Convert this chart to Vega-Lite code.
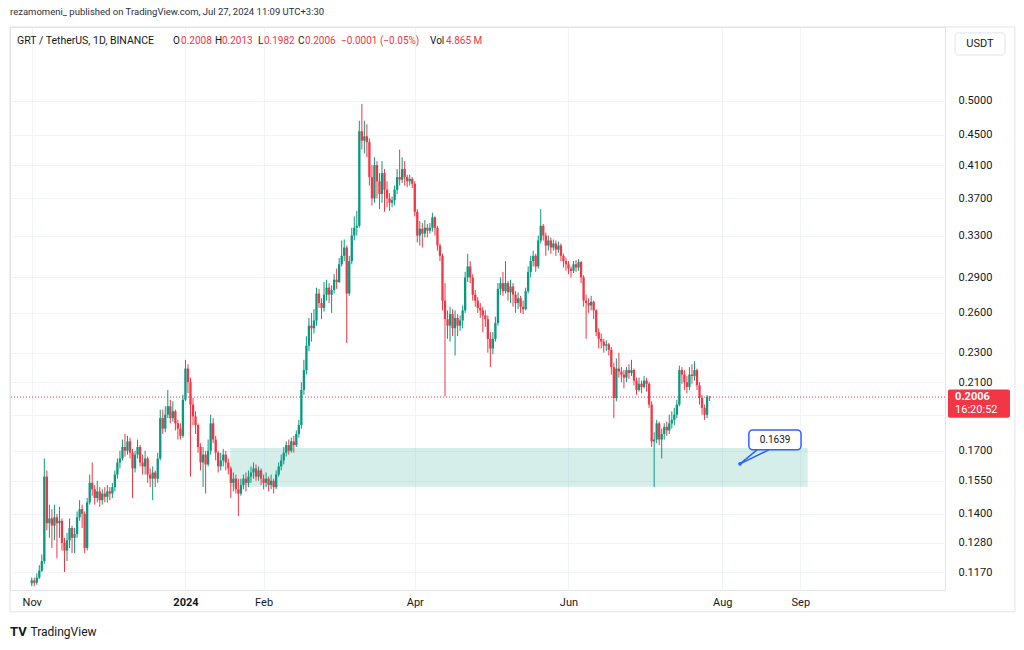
{
"$schema": "https://vega.github.io/schema/vega-lite/v6.json",
"width": 935, "height": 563,
"autosize": {"type": "none"},
"padding": {"left": 10, "top": 27, "right": 79, "bottom": 60},
"background": "#ffffff",
"config": {"view": {"stroke": "#e0e3eb", "strokeWidth": 1}, "font": "Roboto"},
"datasets": {
"candles": [
{"d":"2023-11-01","o":0.1130,"h":0.1150,"l":0.1120,"c":0.1140},
{"d":"2023-11-02","o":0.1140,"h":0.1150,"l":0.1120,"c":0.1132},
{"d":"2023-11-03","o":0.1132,"h":0.1165,"l":0.1125,"c":0.1150},
{"d":"2023-11-04","o":0.1150,"h":0.1195,"l":0.1145,"c":0.1175},
{"d":"2023-11-05","o":0.1175,"h":0.1235,"l":0.1170,"c":0.1210},
{"d":"2023-11-06","o":0.1210,"h":0.1660,"l":0.1200,"c":0.1570},
{"d":"2023-11-07","o":0.1570,"h":0.1600,"l":0.1330,"c":0.1360},
{"d":"2023-11-08","o":0.1360,"h":0.1440,"l":0.1300,"c":0.1380},
{"d":"2023-11-09","o":0.1380,"h":0.1420,"l":0.1260,"c":0.1350},
{"d":"2023-11-10","o":0.1350,"h":0.1440,"l":0.1290,"c":0.1385},
{"d":"2023-11-11","o":0.1385,"h":0.1400,"l":0.1220,"c":0.1360},
{"d":"2023-11-12","o":0.1360,"h":0.1430,"l":0.1300,"c":0.1370},
{"d":"2023-11-13","o":0.1370,"h":0.1380,"l":0.1250,"c":0.1280},
{"d":"2023-11-14","o":0.1280,"h":0.1300,"l":0.1170,"c":0.1250},
{"d":"2023-11-15","o":0.1250,"h":0.1320,"l":0.1210,"c":0.1290},
{"d":"2023-11-16","o":0.1290,"h":0.1380,"l":0.1260,"c":0.1340},
{"d":"2023-11-17","o":0.1340,"h":0.1350,"l":0.1240,"c":0.1300},
{"d":"2023-11-18","o":0.1300,"h":0.1340,"l":0.1240,"c":0.1315},
{"d":"2023-11-19","o":0.1315,"h":0.1410,"l":0.1300,"c":0.1385},
{"d":"2023-11-20","o":0.1385,"h":0.1460,"l":0.1370,"c":0.1420},
{"d":"2023-11-21","o":0.1420,"h":0.1440,"l":0.1340,"c":0.1400},
{"d":"2023-11-22","o":0.1400,"h":0.1410,"l":0.1240,"c":0.1260},
{"d":"2023-11-23","o":0.1260,"h":0.1470,"l":0.1250,"c":0.1450},
{"d":"2023-11-24","o":0.1450,"h":0.1580,"l":0.1440,"c":0.1540},
{"d":"2023-11-25","o":0.1540,"h":0.1640,"l":0.1480,"c":0.1510},
{"d":"2023-11-26","o":0.1510,"h":0.1530,"l":0.1440,"c":0.1470},
{"d":"2023-11-27","o":0.1470,"h":0.1550,"l":0.1450,"c":0.1500},
{"d":"2023-11-28","o":0.1500,"h":0.1520,"l":0.1430,"c":0.1460},
{"d":"2023-11-29","o":0.1460,"h":0.1510,"l":0.1440,"c":0.1490},
{"d":"2023-11-30","o":0.1490,"h":0.1520,"l":0.1450,"c":0.1475},
{"d":"2023-12-01","o":0.1475,"h":0.1530,"l":0.1450,"c":0.1500},
{"d":"2023-12-02","o":0.1500,"h":0.1520,"l":0.1460,"c":0.1490},
{"d":"2023-12-03","o":0.1490,"h":0.1540,"l":0.1470,"c":0.1520},
{"d":"2023-12-04","o":0.1520,"h":0.1600,"l":0.1500,"c":0.1580},
{"d":"2023-12-05","o":0.1580,"h":0.1660,"l":0.1560,"c":0.1640},
{"d":"2023-12-06","o":0.1640,"h":0.1700,"l":0.1610,"c":0.1660},
{"d":"2023-12-07","o":0.1660,"h":0.1760,"l":0.1650,"c":0.1720},
{"d":"2023-12-08","o":0.1720,"h":0.1790,"l":0.1670,"c":0.1700},
{"d":"2023-12-09","o":0.1700,"h":0.1780,"l":0.1680,"c":0.1750},
{"d":"2023-12-10","o":0.1750,"h":0.1770,"l":0.1660,"c":0.1690},
{"d":"2023-12-11","o":0.1690,"h":0.1710,"l":0.1470,"c":0.1610},
{"d":"2023-12-12","o":0.1610,"h":0.1700,"l":0.1590,"c":0.1680},
{"d":"2023-12-13","o":0.1680,"h":0.1760,"l":0.1660,"c":0.1720},
{"d":"2023-12-14","o":0.1720,"h":0.1730,"l":0.1620,"c":0.1640},
{"d":"2023-12-15","o":0.1640,"h":0.1680,"l":0.1580,"c":0.1620},
{"d":"2023-12-16","o":0.1620,"h":0.1700,"l":0.1580,"c":0.1660},
{"d":"2023-12-17","o":0.1660,"h":0.1670,"l":0.1540,"c":0.1580},
{"d":"2023-12-18","o":0.1580,"h":0.1610,"l":0.1520,"c":0.1560},
{"d":"2023-12-19","o":0.1560,"h":0.1620,"l":0.1460,"c":0.1590},
{"d":"2023-12-20","o":0.1590,"h":0.1600,"l":0.1520,"c":0.1560},
{"d":"2023-12-21","o":0.1560,"h":0.1690,"l":0.1540,"c":0.1660},
{"d":"2023-12-22","o":0.1660,"h":0.1930,"l":0.1650,"c":0.1880},
{"d":"2023-12-23","o":0.1880,"h":0.1930,"l":0.1790,"c":0.1820},
{"d":"2023-12-24","o":0.1820,"h":0.1950,"l":0.1800,"c":0.1900},
{"d":"2023-12-25","o":0.1900,"h":0.2050,"l":0.1880,"c":0.1950},
{"d":"2023-12-26","o":0.1950,"h":0.1990,"l":0.1850,"c":0.1880},
{"d":"2023-12-27","o":0.1880,"h":0.1980,"l":0.1860,"c":0.1920},
{"d":"2023-12-28","o":0.1920,"h":0.1930,"l":0.1810,"c":0.1850},
{"d":"2023-12-29","o":0.1850,"h":0.1870,"l":0.1760,"c":0.1820},
{"d":"2023-12-30","o":0.1820,"h":0.1850,"l":0.1760,"c":0.1780},
{"d":"2023-12-31","o":0.1780,"h":0.2020,"l":0.1770,"c":0.1990},
{"d":"2024-01-01","o":0.1990,"h":0.2250,"l":0.1980,"c":0.2190},
{"d":"2024-01-02","o":0.2190,"h":0.2220,"l":0.2030,"c":0.2100},
{"d":"2024-01-03","o":0.2100,"h":0.2130,"l":0.1570,"c":0.1960},
{"d":"2024-01-04","o":0.1960,"h":0.2000,"l":0.1840,"c":0.1890},
{"d":"2024-01-05","o":0.1890,"h":0.1920,"l":0.1790,"c":0.1840},
{"d":"2024-01-06","o":0.1840,"h":0.1850,"l":0.1690,"c":0.1720},
{"d":"2024-01-07","o":0.1720,"h":0.1740,"l":0.1600,"c":0.1640},
{"d":"2024-01-08","o":0.1640,"h":0.1720,"l":0.1520,"c":0.1680},
{"d":"2024-01-09","o":0.1680,"h":0.1700,"l":0.1490,"c":0.1630},
{"d":"2024-01-10","o":0.1630,"h":0.1760,"l":0.1620,"c":0.1700},
{"d":"2024-01-11","o":0.1700,"h":0.1900,"l":0.1680,"c":0.1850},
{"d":"2024-01-12","o":0.1850,"h":0.1880,"l":0.1740,"c":0.1760},
{"d":"2024-01-13","o":0.1760,"h":0.1780,"l":0.1650,"c":0.1690},
{"d":"2024-01-14","o":0.1690,"h":0.1700,"l":0.1590,"c":0.1620},
{"d":"2024-01-15","o":0.1620,"h":0.1690,"l":0.1600,"c":0.1650},
{"d":"2024-01-16","o":0.1650,"h":0.1710,"l":0.1620,"c":0.1680},
{"d":"2024-01-17","o":0.1680,"h":0.1700,"l":0.1600,"c":0.1640},
{"d":"2024-01-18","o":0.1640,"h":0.1660,"l":0.1580,"c":0.1610},
{"d":"2024-01-19","o":0.1610,"h":0.1620,"l":0.1470,"c":0.1540},
{"d":"2024-01-20","o":0.1540,"h":0.1590,"l":0.1500,"c":0.1560},
{"d":"2024-01-21","o":0.1560,"h":0.1580,"l":0.1490,"c":0.1510},
{"d":"2024-01-22","o":0.1510,"h":0.1560,"l":0.1390,"c":0.1490},
{"d":"2024-01-23","o":0.1490,"h":0.1560,"l":0.1480,"c":0.1530},
{"d":"2024-01-24","o":0.1530,"h":0.1580,"l":0.1510,"c":0.1560},
{"d":"2024-01-25","o":0.1560,"h":0.1590,"l":0.1500,"c":0.1540},
{"d":"2024-01-26","o":0.1540,"h":0.1600,"l":0.1520,"c":0.1570},
{"d":"2024-01-27","o":0.1570,"h":0.1620,"l":0.1540,"c":0.1590},
{"d":"2024-01-28","o":0.1590,"h":0.1640,"l":0.1560,"c":0.1610},
{"d":"2024-01-29","o":0.1610,"h":0.1630,"l":0.1550,"c":0.1570},
{"d":"2024-01-30","o":0.1570,"h":0.1620,"l":0.1550,"c":0.1600},
{"d":"2024-01-31","o":0.1600,"h":0.1610,"l":0.1530,"c":0.1560},
{"d":"2024-02-01","o":0.1560,"h":0.1580,"l":0.1510,"c":0.1540},
{"d":"2024-02-02","o":0.1540,"h":0.1590,"l":0.1520,"c":0.1560},
{"d":"2024-02-03","o":0.1560,"h":0.1570,"l":0.1500,"c":0.1530},
{"d":"2024-02-04","o":0.1530,"h":0.1580,"l":0.1510,"c":0.1550},
{"d":"2024-02-05","o":0.1550,"h":0.1560,"l":0.1490,"c":0.1520},
{"d":"2024-02-06","o":0.1520,"h":0.1600,"l":0.1510,"c":0.1580},
{"d":"2024-02-07","o":0.1580,"h":0.1640,"l":0.1570,"c":0.1620},
{"d":"2024-02-08","o":0.1620,"h":0.1680,"l":0.1600,"c":0.1650},
{"d":"2024-02-09","o":0.1650,"h":0.1720,"l":0.1630,"c":0.1690},
{"d":"2024-02-10","o":0.1690,"h":0.1750,"l":0.1670,"c":0.1730},
{"d":"2024-02-11","o":0.1730,"h":0.1760,"l":0.1680,"c":0.1700},
{"d":"2024-02-12","o":0.1700,"h":0.1770,"l":0.1690,"c":0.1750},
{"d":"2024-02-13","o":0.1750,"h":0.1780,"l":0.1690,"c":0.1730},
{"d":"2024-02-14","o":0.1730,"h":0.1810,"l":0.1720,"c":0.1790},
{"d":"2024-02-15","o":0.1790,"h":0.1870,"l":0.1770,"c":0.1840},
{"d":"2024-02-16","o":0.1840,"h":0.2100,"l":0.1820,"c":0.2050},
{"d":"2024-02-17","o":0.2050,"h":0.2250,"l":0.2020,"c":0.2180},
{"d":"2024-02-18","o":0.2180,"h":0.2420,"l":0.2150,"c":0.2350},
{"d":"2024-02-19","o":0.2350,"h":0.2560,"l":0.2310,"c":0.2500},
{"d":"2024-02-20","o":0.2500,"h":0.2600,"l":0.2380,"c":0.2480},
{"d":"2024-02-21","o":0.2480,"h":0.2630,"l":0.2440,"c":0.2540},
{"d":"2024-02-22","o":0.2540,"h":0.2810,"l":0.2500,"c":0.2760},
{"d":"2024-02-23","o":0.2760,"h":0.2800,"l":0.2640,"c":0.2680},
{"d":"2024-02-24","o":0.2680,"h":0.2720,"l":0.2550,"c":0.2640},
{"d":"2024-02-25","o":0.2640,"h":0.2860,"l":0.2610,"c":0.2750},
{"d":"2024-02-26","o":0.2750,"h":0.2880,"l":0.2700,"c":0.2810},
{"d":"2024-02-27","o":0.2810,"h":0.2850,"l":0.2680,"c":0.2750},
{"d":"2024-02-28","o":0.2750,"h":0.2830,"l":0.2600,"c":0.2790},
{"d":"2024-02-29","o":0.2790,"h":0.2930,"l":0.2760,"c":0.2880},
{"d":"2024-03-01","o":0.2880,"h":0.2980,"l":0.2800,"c":0.2860},
{"d":"2024-03-02","o":0.2860,"h":0.3080,"l":0.2850,"c":0.3020},
{"d":"2024-03-03","o":0.3020,"h":0.3250,"l":0.3000,"c":0.3100},
{"d":"2024-03-04","o":0.3100,"h":0.3260,"l":0.3050,"c":0.3180},
{"d":"2024-03-05","o":0.3180,"h":0.3200,"l":0.2370,"c":0.2760},
{"d":"2024-03-06","o":0.2760,"h":0.3100,"l":0.2740,"c":0.3050},
{"d":"2024-03-07","o":0.3050,"h":0.3380,"l":0.3020,"c":0.3300},
{"d":"2024-03-08","o":0.3300,"h":0.3500,"l":0.3250,"c":0.3380},
{"d":"2024-03-09","o":0.3380,"h":0.3560,"l":0.3300,"c":0.3400},
{"d":"2024-03-10","o":0.3400,"h":0.4700,"l":0.3380,"c":0.4550},
{"d":"2024-03-11","o":0.4550,"h":0.4950,"l":0.4300,"c":0.4420},
{"d":"2024-03-12","o":0.4420,"h":0.4700,"l":0.4250,"c":0.4480},
{"d":"2024-03-13","o":0.4480,"h":0.4650,"l":0.4200,"c":0.4400},
{"d":"2024-03-14","o":0.4400,"h":0.4450,"l":0.3850,"c":0.3950},
{"d":"2024-03-15","o":0.3950,"h":0.4100,"l":0.3620,"c":0.3700},
{"d":"2024-03-16","o":0.3700,"h":0.4200,"l":0.3650,"c":0.4100},
{"d":"2024-03-17","o":0.4100,"h":0.4150,"l":0.3700,"c":0.3900},
{"d":"2024-03-18","o":0.3900,"h":0.4000,"l":0.3580,"c":0.3750},
{"d":"2024-03-19","o":0.3750,"h":0.4150,"l":0.3650,"c":0.4000},
{"d":"2024-03-20","o":0.4000,"h":0.4050,"l":0.3550,"c":0.3800},
{"d":"2024-03-21","o":0.3800,"h":0.3900,"l":0.3600,"c":0.3700},
{"d":"2024-03-22","o":0.3700,"h":0.3760,"l":0.3560,"c":0.3650},
{"d":"2024-03-23","o":0.3650,"h":0.3720,"l":0.3600,"c":0.3680},
{"d":"2024-03-24","o":0.3680,"h":0.3850,"l":0.3620,"c":0.3800},
{"d":"2024-03-25","o":0.3800,"h":0.4050,"l":0.3750,"c":0.3950},
{"d":"2024-03-26","o":0.3950,"h":0.4300,"l":0.3850,"c":0.3920},
{"d":"2024-03-27","o":0.3920,"h":0.4200,"l":0.3880,"c":0.4050},
{"d":"2024-03-28","o":0.4050,"h":0.4150,"l":0.3850,"c":0.3950},
{"d":"2024-03-29","o":0.3950,"h":0.3980,"l":0.3830,"c":0.3900},
{"d":"2024-03-30","o":0.3900,"h":0.3980,"l":0.3850,"c":0.3930},
{"d":"2024-03-31","o":0.3930,"h":0.3950,"l":0.3820,"c":0.3870},
{"d":"2024-04-01","o":0.3870,"h":0.3900,"l":0.3500,"c":0.3550},
{"d":"2024-04-02","o":0.3550,"h":0.3580,"l":0.3230,"c":0.3300},
{"d":"2024-04-03","o":0.3300,"h":0.3450,"l":0.3200,"c":0.3370},
{"d":"2024-04-04","o":0.3370,"h":0.3430,"l":0.3180,"c":0.3320},
{"d":"2024-04-05","o":0.3320,"h":0.3460,"l":0.3280,"c":0.3380},
{"d":"2024-04-06","o":0.3380,"h":0.3420,"l":0.3280,"c":0.3350},
{"d":"2024-04-07","o":0.3350,"h":0.3430,"l":0.3320,"c":0.3380},
{"d":"2024-04-08","o":0.3380,"h":0.3540,"l":0.3340,"c":0.3490},
{"d":"2024-04-09","o":0.3490,"h":0.3500,"l":0.3300,"c":0.3380},
{"d":"2024-04-10","o":0.3380,"h":0.3400,"l":0.3150,"c":0.3200},
{"d":"2024-04-11","o":0.3200,"h":0.3220,"l":0.3050,"c":0.3100},
{"d":"2024-04-12","o":0.3100,"h":0.3120,"l":0.2620,"c":0.2700},
{"d":"2024-04-13","o":0.2700,"h":0.2850,"l":0.2010,"c":0.2550},
{"d":"2024-04-14","o":0.2550,"h":0.2620,"l":0.2400,"c":0.2500},
{"d":"2024-04-15","o":0.2500,"h":0.2650,"l":0.2380,"c":0.2590},
{"d":"2024-04-16","o":0.2590,"h":0.2630,"l":0.2420,"c":0.2480},
{"d":"2024-04-17","o":0.2480,"h":0.2620,"l":0.2280,"c":0.2560},
{"d":"2024-04-18","o":0.2560,"h":0.2590,"l":0.2420,"c":0.2500},
{"d":"2024-04-19","o":0.2500,"h":0.2580,"l":0.2460,"c":0.2540},
{"d":"2024-04-20","o":0.2540,"h":0.2660,"l":0.2480,"c":0.2620},
{"d":"2024-04-21","o":0.2620,"h":0.2950,"l":0.2600,"c":0.2900},
{"d":"2024-04-22","o":0.2900,"h":0.3120,"l":0.2860,"c":0.3000},
{"d":"2024-04-23","o":0.3000,"h":0.3050,"l":0.2850,"c":0.2900},
{"d":"2024-04-24","o":0.2900,"h":0.2930,"l":0.2700,"c":0.2750},
{"d":"2024-04-25","o":0.2750,"h":0.2790,"l":0.2650,"c":0.2700},
{"d":"2024-04-26","o":0.2700,"h":0.2730,"l":0.2600,"c":0.2640},
{"d":"2024-04-27","o":0.2640,"h":0.2680,"l":0.2560,"c":0.2620},
{"d":"2024-04-28","o":0.2620,"h":0.2650,"l":0.2450,"c":0.2580},
{"d":"2024-04-29","o":0.2580,"h":0.2620,"l":0.2490,"c":0.2550},
{"d":"2024-04-30","o":0.2550,"h":0.2580,"l":0.2300,"c":0.2400},
{"d":"2024-05-01","o":0.2400,"h":0.2450,"l":0.2200,"c":0.2330},
{"d":"2024-05-02","o":0.2330,"h":0.2450,"l":0.2290,"c":0.2400},
{"d":"2024-05-03","o":0.2400,"h":0.2570,"l":0.2380,"c":0.2520},
{"d":"2024-05-04","o":0.2520,"h":0.2850,"l":0.2500,"c":0.2800},
{"d":"2024-05-05","o":0.2800,"h":0.2900,"l":0.2750,"c":0.2850},
{"d":"2024-05-06","o":0.2850,"h":0.2950,"l":0.2740,"c":0.2780},
{"d":"2024-05-07","o":0.2780,"h":0.3050,"l":0.2760,"c":0.2850},
{"d":"2024-05-08","o":0.2850,"h":0.2870,"l":0.2700,"c":0.2770},
{"d":"2024-05-09","o":0.2770,"h":0.2880,"l":0.2680,"c":0.2820},
{"d":"2024-05-10","o":0.2820,"h":0.2850,"l":0.2650,"c":0.2750},
{"d":"2024-05-11","o":0.2750,"h":0.2780,"l":0.2600,"c":0.2680},
{"d":"2024-05-12","o":0.2680,"h":0.2770,"l":0.2630,"c":0.2720},
{"d":"2024-05-13","o":0.2720,"h":0.2740,"l":0.2600,"c":0.2650},
{"d":"2024-05-14","o":0.2650,"h":0.2700,"l":0.2590,"c":0.2630},
{"d":"2024-05-15","o":0.2630,"h":0.2810,"l":0.2620,"c":0.2780},
{"d":"2024-05-16","o":0.2780,"h":0.3000,"l":0.2760,"c":0.2950},
{"d":"2024-05-17","o":0.2950,"h":0.3100,"l":0.2900,"c":0.3050},
{"d":"2024-05-18","o":0.3050,"h":0.3150,"l":0.3000,"c":0.3100},
{"d":"2024-05-19","o":0.3100,"h":0.3120,"l":0.2950,"c":0.3000},
{"d":"2024-05-20","o":0.3000,"h":0.3300,"l":0.2980,"c":0.3250},
{"d":"2024-05-21","o":0.3250,"h":0.3580,"l":0.3220,"c":0.3400},
{"d":"2024-05-22","o":0.3400,"h":0.3420,"l":0.3250,"c":0.3300},
{"d":"2024-05-23","o":0.3300,"h":0.3330,"l":0.3100,"c":0.3200},
{"d":"2024-05-24","o":0.3200,"h":0.3300,"l":0.3150,"c":0.3250},
{"d":"2024-05-25","o":0.3250,"h":0.3280,"l":0.3120,"c":0.3180},
{"d":"2024-05-26","o":0.3180,"h":0.3260,"l":0.3150,"c":0.3220},
{"d":"2024-05-27","o":0.3220,"h":0.3250,"l":0.3100,"c":0.3160},
{"d":"2024-05-28","o":0.3160,"h":0.3240,"l":0.3130,"c":0.3200},
{"d":"2024-05-29","o":0.3200,"h":0.3220,"l":0.3050,"c":0.3100},
{"d":"2024-05-30","o":0.3100,"h":0.3120,"l":0.2990,"c":0.3050},
{"d":"2024-05-31","o":0.3050,"h":0.3080,"l":0.2960,"c":0.3020},
{"d":"2024-06-01","o":0.3020,"h":0.3050,"l":0.2930,"c":0.2980},
{"d":"2024-06-02","o":0.2980,"h":0.3000,"l":0.2900,"c":0.2960},
{"d":"2024-06-03","o":0.2960,"h":0.3050,"l":0.2940,"c":0.3020},
{"d":"2024-06-04","o":0.3020,"h":0.3060,"l":0.2950,"c":0.2990},
{"d":"2024-06-05","o":0.2990,"h":0.3070,"l":0.2960,"c":0.3040},
{"d":"2024-06-06","o":0.3040,"h":0.3050,"l":0.2850,"c":0.2900},
{"d":"2024-06-07","o":0.2900,"h":0.2920,"l":0.2650,"c":0.2700},
{"d":"2024-06-08","o":0.2700,"h":0.2750,"l":0.2400,"c":0.2680},
{"d":"2024-06-09","o":0.2680,"h":0.2720,"l":0.2600,"c":0.2660},
{"d":"2024-06-10","o":0.2660,"h":0.2740,"l":0.2620,"c":0.2690},
{"d":"2024-06-11","o":0.2690,"h":0.2700,"l":0.2550,"c":0.2620},
{"d":"2024-06-12","o":0.2620,"h":0.2630,"l":0.2420,"c":0.2450},
{"d":"2024-06-13","o":0.2450,"h":0.2480,"l":0.2330,"c":0.2400},
{"d":"2024-06-14","o":0.2400,"h":0.2440,"l":0.2330,"c":0.2380},
{"d":"2024-06-15","o":0.2380,"h":0.2400,"l":0.2300,"c":0.2350},
{"d":"2024-06-16","o":0.2350,"h":0.2390,"l":0.2310,"c":0.2360},
{"d":"2024-06-17","o":0.2360,"h":0.2370,"l":0.2280,"c":0.2320},
{"d":"2024-06-18","o":0.2320,"h":0.2340,"l":0.2150,"c":0.2200},
{"d":"2024-06-19","o":0.2200,"h":0.2230,"l":0.1880,"c":0.2000},
{"d":"2024-06-20","o":0.2000,"h":0.2260,"l":0.1980,"c":0.2190},
{"d":"2024-06-21","o":0.2190,"h":0.2300,"l":0.2130,"c":0.2170},
{"d":"2024-06-22","o":0.2170,"h":0.2200,"l":0.2100,"c":0.2150},
{"d":"2024-06-23","o":0.2150,"h":0.2180,"l":0.2060,"c":0.2130},
{"d":"2024-06-24","o":0.2130,"h":0.2200,"l":0.2100,"c":0.2180},
{"d":"2024-06-25","o":0.2180,"h":0.2220,"l":0.2120,"c":0.2160},
{"d":"2024-06-26","o":0.2160,"h":0.2250,"l":0.2140,"c":0.2180},
{"d":"2024-06-27","o":0.2180,"h":0.2190,"l":0.2080,"c":0.2110},
{"d":"2024-06-28","o":0.2110,"h":0.2130,"l":0.2020,"c":0.2050},
{"d":"2024-06-29","o":0.2050,"h":0.2130,"l":0.2040,"c":0.2090},
{"d":"2024-06-30","o":0.2090,"h":0.2110,"l":0.2030,"c":0.2070},
{"d":"2024-07-01","o":0.2070,"h":0.2140,"l":0.2060,"c":0.2110},
{"d":"2024-07-02","o":0.2110,"h":0.2130,"l":0.2040,"c":0.2090},
{"d":"2024-07-03","o":0.2090,"h":0.2100,"l":0.1940,"c":0.1960},
{"d":"2024-07-04","o":0.1960,"h":0.1980,"l":0.1720,"c":0.1750},
{"d":"2024-07-05","o":0.1750,"h":0.1800,"l":0.1520,"c":0.1760},
{"d":"2024-07-06","o":0.1760,"h":0.1870,"l":0.1740,"c":0.1850},
{"d":"2024-07-07","o":0.1850,"h":0.1860,"l":0.1730,"c":0.1760},
{"d":"2024-07-08","o":0.1760,"h":0.1820,"l":0.1660,"c":0.1790},
{"d":"2024-07-09","o":0.1790,"h":0.1850,"l":0.1760,"c":0.1830},
{"d":"2024-07-10","o":0.1830,"h":0.1860,"l":0.1780,"c":0.1810},
{"d":"2024-07-11","o":0.1810,"h":0.1900,"l":0.1790,"c":0.1850},
{"d":"2024-07-12","o":0.1850,"h":0.1920,"l":0.1820,"c":0.1870},
{"d":"2024-07-13","o":0.1870,"h":0.1940,"l":0.1840,"c":0.1900},
{"d":"2024-07-14","o":0.1900,"h":0.1990,"l":0.1880,"c":0.1960},
{"d":"2024-07-15","o":0.1960,"h":0.2210,"l":0.1950,"c":0.2180},
{"d":"2024-07-16","o":0.2180,"h":0.2200,"l":0.2090,"c":0.2150},
{"d":"2024-07-17","o":0.2150,"h":0.2180,"l":0.2050,"c":0.2100},
{"d":"2024-07-18","o":0.2100,"h":0.2140,"l":0.2030,"c":0.2070},
{"d":"2024-07-19","o":0.2070,"h":0.2200,"l":0.2050,"c":0.2150},
{"d":"2024-07-20","o":0.2150,"h":0.2220,"l":0.2090,"c":0.2140},
{"d":"2024-07-21","o":0.2140,"h":0.2240,"l":0.2110,"c":0.2180},
{"d":"2024-07-22","o":0.2180,"h":0.2190,"l":0.2050,"c":0.2080},
{"d":"2024-07-23","o":0.2080,"h":0.2100,"l":0.1960,"c":0.2000},
{"d":"2024-07-24","o":0.2000,"h":0.2020,"l":0.1900,"c":0.1940},
{"d":"2024-07-25","o":0.1940,"h":0.1960,"l":0.1870,"c":0.1900},
{"d":"2024-07-26","o":0.1900,"h":0.2020,"l":0.1880,"c":0.2008},
{"d":"2024-07-27","o":0.2008,"h":0.2013,"l":0.1982,"c":0.2006}
],
"one": [{}]
},
"layer": [
{
"data": {"name": "one"},
"mark": {"type": "rect", "color": "#089981", "opacity": 0.17},
"encoding": {
"x": {"datum": {"year": 2024, "month": 1, "date": 18, "hours": 19, "utc": true}, "type": "temporal",
"scale": {"type": "utc", "padding": 0, "domain": [{"year": 2023, "month": 10, "date": 23, "hours": 9, "utc": true}, {"year": 2024, "month": 10, "date": 28, "hours": 10, "utc": true}]},
"axis": {"values": [{"year": 2023, "month": 11, "date": 1, "utc": true}, {"year": 2024, "month": 1, "date": 1, "utc": true}, {"year": 2024, "month": 2, "date": 1, "utc": true}, {"year": 2024, "month": 4, "date": 1, "utc": true}, {"year": 2024, "month": 6, "date": 1, "utc": true}, {"year": 2024, "month": 8, "date": 1, "utc": true}, {"year": 2024, "month": 9, "date": 1, "utc": true}],
"labelExpr": "utcFormat(datum.value, '%m') == '01' ? utcFormat(datum.value, '%Y') : utcFormat(datum.value, '%b')",
"labelFontWeight": {"condition": {"test": "utcFormat(datum.value, '%m') == '01'", "value": "bold"}, "value": "normal"},
"title": null, "grid": true, "gridColor": "#f0f3fa", "domain": false, "ticks": false,
"labelPadding": 6, "labelFontSize": 11, "labelColor": "#131722", "labelFont": "Roboto"}},
"x2": {"datum": {"year": 2024, "month": 9, "date": 3, "hours": 22, "utc": true}},
"y": {"datum": 0.1715, "type": "quantitative",
"scale": {"type": "log", "padding": 0, "domain": [0.1107, 0.6274], "nice": false, "zero": false},
"axis": {"orient": "right", "values": [0.117, 0.128, 0.14, 0.155, 0.17, 0.19, 0.21, 0.23, 0.26, 0.29, 0.33, 0.37, 0.41, 0.45, 0.5],
"labelExpr": "datum.value == 0.19 ? '' : format(datum.value, '.4f')",
"title": null, "grid": true, "gridColor": "#f0f3fa", "domain": false, "ticks": false,
"labelPadding": 13, "labelFontSize": 11, "labelColor": "#131722", "labelFont": "Roboto", "labelBaseline": "middle"}},
"y2": {"datum": 0.1522}
}
},
{
"data": {"name": "one"},
"mark": {"type": "rect", "fill": null, "stroke": "#e0e3eb", "strokeWidth": 1},
"encoding": {
"x": {"datum": {"year": 2023, "month": 10, "date": 23, "hours": 9, "utc": true}, "type": "temporal"},
"x2": {"datum": {"year": 2024, "month": 11, "date": 25, "hours": 4, "utc": true}},
"y": {"datum": 0.6274, "type": "quantitative"},
"y2": {"datum": 0.1035}
}
},
{
"data": {"name": "one"},
"mark": {"type": "rule", "color": "#f23645", "strokeDash": [1, 2], "strokeWidth": 1},
"encoding": {"y": {"datum": 0.2006, "type": "quantitative"}}
},
{
"data": {"name": "candles"},
"mark": {"type": "rule", "strokeWidth": 1},
"encoding": {
"x": {"field": "d", "type": "temporal"},
"y": {"field": "l", "type": "quantitative"},
"y2": {"field": "h"},
"color": {"condition": {"test": "datum.c >= datum.o", "value": "#089981"}, "value": "#f23645"}
}
},
{
"data": {"name": "candles"},
"mark": {"type": "bar", "size": 2.3},
"encoding": {
"x": {"field": "d", "type": "temporal"},
"y": {"field": "o", "type": "quantitative"},
"y2": {"field": "c"},
"color": {"condition": {"test": "datum.c >= datum.o", "value": "#089981"}, "value": "#f23645"}
}
},
{
"data": {"name": "one"},
"mark": {"type": "rule", "color": "#2962ff", "strokeWidth": 1.5},
"encoding": {
"x": {"datum": {"year": 2024, "month": 8, "date": 8, "hours": 2, "utc": true}, "type": "temporal"},
"x2": {"datum": {"year": 2024, "month": 8, "date": 14, "hours": 20, "utc": true}},
"y": {"datum": 0.1633, "type": "quantitative"},
"y2": {"datum": 0.1705}
}
},
{
"data": {"name": "one"},
"mark": {"type": "rule", "color": "#2962ff", "strokeWidth": 1.5},
"encoding": {
"x": {"datum": {"year": 2024, "month": 8, "date": 8, "hours": 2, "utc": true}, "type": "temporal"},
"x2": {"datum": {"year": 2024, "month": 8, "date": 19, "hours": 12, "utc": true}},
"y": {"datum": 0.1633, "type": "quantitative"},
"y2": {"datum": 0.1705}
}
},
{
"data": {"name": "one"},
"mark": {"type": "rect", "fill": "#ffffff", "stroke": "#2962ff", "strokeWidth": 1.5, "cornerRadius": 4},
"encoding": {
"x": {"datum": {"year": 2024, "month": 8, "date": 11, "hours": 14, "utc": true}, "type": "temporal"},
"x2": {"datum": {"year": 2024, "month": 9, "date": 1, "hours": 7, "utc": true}},
"y": {"datum": 0.1813, "type": "quantitative"},
"y2": {"datum": 0.1705}
}
},
{
"data": {"name": "one"},
"mark": {"type": "point", "filled": true, "color": "#2962ff", "size": 14, "opacity": 1},
"encoding": {
"x": {"datum": {"year": 2024, "month": 8, "date": 8, "hours": 2, "utc": true}, "type": "temporal"},
"y": {"datum": 0.1633, "type": "quantitative"}
}
},
{
"data": {"name": "one"},
"mark": {"type": "text", "text": "0.1639", "fontSize": 10, "color": "#131722", "align": "center", "baseline": "middle"},
"encoding": {
"x": {"datum": {"year": 2024, "month": 8, "date": 22, "utc": true}, "type": "temporal"},
"y": {"datum": 0.1758, "type": "quantitative"}
}
},
{
"data": {"name": "one"},
"mark": {"type": "rect", "fill": "#f23645", "cornerRadius": 2},
"encoding": {
"x": {"datum": {"year": 2024, "month": 10, "date": 29, "hours": 14, "utc": true}, "type": "temporal"},
"x2": {"datum": {"year": 2024, "month": 11, "date": 23, "hours": 5, "utc": true}},
"y": {"datum": 0.2054, "type": "quantitative"},
"y2": {"datum": 0.1882}
}
},
{
"data": {"name": "one"},
"mark": {"type": "text", "text": "0.2006", "fontSize": 11, "fontWeight": "bold", "color": "#ffffff", "align": "left", "baseline": "middle"},
"encoding": {
"x": {"datum": {"year": 2024, "month": 11, "date": 1, "hours": 10, "utc": true}, "type": "temporal"},
"y": {"datum": 0.2006, "type": "quantitative"}
}
},
{
"data": {"name": "one"},
"mark": {"type": "text", "text": "16:20:52", "fontSize": 11, "color": "#ffffff", "align": "left", "baseline": "middle"},
"encoding": {
"x": {"datum": {"year": 2024, "month": 11, "date": 1, "hours": 10, "utc": true}, "type": "temporal"},
"y": {"datum": 0.1929, "type": "quantitative"}
}
},
{
"data": {"name": "one"},
"mark": {"type": "rect", "fill": "#ffffff", "stroke": "#e0e3eb", "strokeWidth": 1, "cornerRadius": 3},
"encoding": {
"x": {"datum": {"year": 2024, "month": 11, "date": 1, "hours": 10, "utc": true}, "type": "temporal"},
"x2": {"datum": {"year": 2024, "month": 11, "date": 21, "hours": 5, "utc": true}},
"y": {"datum": 0.616, "type": "quantitative"},
"y2": {"datum": 0.5755}
}
},
{
"data": {"name": "one"},
"mark": {"type": "text", "text": "USDT", "fontSize": 11, "color": "#131722", "align": "center", "baseline": "middle"},
"encoding": {
"x": {"datum": {"year": 2024, "month": 11, "date": 11, "hours": 7, "utc": true}, "type": "temporal"},
"y": {"datum": 0.5954, "type": "quantitative"}
}
},
{
"data": {"name": "one"},
"mark": {"type": "text", "text": "rezamomeni_ published on TradingView.com, Jul 27, 2024 11:09 UTC+3:30", "fontSize": 9.5, "color": "#2a2e39", "align": "left", "baseline": "middle"},
"encoding": {
"x": {"datum": {"year": 2023, "month": 10, "date": 23, "hours": 9, "utc": true}, "type": "temporal"},
"y": {"datum": 0.6571, "type": "quantitative"}
}
},
{
"data": {"name": "one"},
"mark": {"type": "text", "text": "GRT / TetherUS, 1D, BINANCE", "fontSize": 10.5, "color": "#131722", "align": "left", "baseline": "middle"},
"encoding": {
"x": {"datum": {"year": 2023, "month": 10, "date": 26, "hours": 4, "utc": true}, "type": "temporal"},
"y": {"datum": 0.6009, "type": "quantitative"}
}
},
{
"data": {"name": "one"},
"mark": {"type": "text", "text": "O", "fontSize": 10, "color": "#131722", "align": "left", "baseline": "middle"},
"encoding": {
"x": {"datum": {"year": 2023, "month": 12, "date": 27, "hours": 1, "utc": true}, "type": "temporal"},
"y": {"datum": 0.6009, "type": "quantitative"}
}
},
{
"data": {"name": "one"},
"mark": {"type": "text", "text": "0.2008", "fontSize": 10, "color": "#f23645", "align": "left", "baseline": "middle"},
"encoding": {
"x": {"datum": {"year": 2023, "month": 12, "date": 30, "hours": 6, "utc": true}, "type": "temporal"},
"y": {"datum": 0.6009, "type": "quantitative"}
}
},
{
"data": {"name": "one"},
"mark": {"type": "text", "text": "H", "fontSize": 10, "color": "#131722", "align": "left", "baseline": "middle"},
"encoding": {
"x": {"datum": {"year": 2024, "month": 1, "date": 12, "hours": 17, "utc": true}, "type": "temporal"},
"y": {"datum": 0.6009, "type": "quantitative"}
}
},
{
"data": {"name": "one"},
"mark": {"type": "text", "text": "0.2013", "fontSize": 10, "color": "#f23645", "align": "left", "baseline": "middle"},
"encoding": {
"x": {"datum": {"year": 2024, "month": 1, "date": 15, "hours": 12, "utc": true}, "type": "temporal"},
"y": {"datum": 0.6009, "type": "quantitative"}
}
},
{
"data": {"name": "one"},
"mark": {"type": "text", "text": "L", "fontSize": 10, "color": "#131722", "align": "left", "baseline": "middle"},
"encoding": {
"x": {"datum": {"year": 2024, "month": 1, "date": 29, "hours": 19, "utc": true}, "type": "temporal"},
"y": {"datum": 0.6009, "type": "quantitative"}
}
},
{
"data": {"name": "one"},
"mark": {"type": "text", "text": "0.1982", "fontSize": 10, "color": "#f23645", "align": "left", "baseline": "middle"},
"encoding": {
"x": {"datum": {"year": 2024, "month": 2, "date": 1, "hours": 4, "utc": true}, "type": "temporal"},
"y": {"datum": 0.6009, "type": "quantitative"}
}
},
{
"data": {"name": "one"},
"mark": {"type": "text", "text": "C", "fontSize": 10, "color": "#131722", "align": "left", "baseline": "middle"},
"encoding": {
"x": {"datum": {"year": 2024, "month": 2, "date": 14, "hours": 16, "utc": true}, "type": "temporal"},
"y": {"datum": 0.6009, "type": "quantitative"}
}
},
{
"data": {"name": "one"},
"mark": {"type": "text", "text": "0.2006", "fontSize": 10, "color": "#f23645", "align": "left", "baseline": "middle"},
"encoding": {
"x": {"datum": {"year": 2024, "month": 2, "date": 17, "hours": 10, "utc": true}, "type": "temporal"},
"y": {"datum": 0.6009, "type": "quantitative"}
}
},
{
"data": {"name": "one"},
"mark": {"type": "text", "text": "−0.0001 (−0.05%)", "fontSize": 10, "color": "#f23645", "align": "left", "baseline": "middle"},
"encoding": {
"x": {"datum": {"year": 2024, "month": 3, "date": 2, "hours": 17, "utc": true}, "type": "temporal"},
"y": {"datum": 0.6009, "type": "quantitative"}
}
},
{
"data": {"name": "one"},
"mark": {"type": "text", "text": "Vol", "fontSize": 10, "color": "#131722", "align": "left", "baseline": "middle"},
"encoding": {
"x": {"datum": {"year": 2024, "month": 4, "date": 7, "hours": 1, "utc": true}, "type": "temporal"},
"y": {"datum": 0.6009, "type": "quantitative"}
}
},
{
"data": {"name": "one"},
"mark": {"type": "text", "text": "4.865 M", "fontSize": 10, "color": "#f23645", "align": "left", "baseline": "middle"},
"encoding": {
"x": {"datum": {"year": 2024, "month": 4, "date": 13, "hours": 9, "utc": true}, "type": "temporal"},
"y": {"datum": 0.6009, "type": "quantitative"}
}
},
{
"data": {"name": "one"},
"mark": {"type": "text", "text": "TV", "fontSize": 13, "fontWeight": "bold", "color": "#131722", "align": "left", "baseline": "middle"},
"encoding": {
"x": {"datum": {"year": 2023, "month": 10, "date": 23, "hours": 9, "utc": true}, "type": "temporal"},
"y": {"datum": 0.0973, "type": "quantitative"}
}
},
{
"data": {"name": "one"},
"mark": {"type": "text", "text": "TradingView", "fontSize": 12, "color": "#131722", "align": "left", "baseline": "middle"},
"encoding": {
"x": {"datum": {"year": 2023, "month": 10, "date": 31, "hours": 12, "utc": true}, "type": "temporal"},
"y": {"datum": 0.0973, "type": "quantitative"}
}
}
]
}
